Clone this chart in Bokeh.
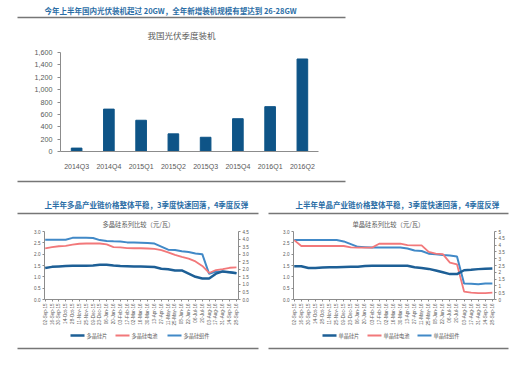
import math
from bokeh.plotting import figure
from bokeh.layouts import row
from bokeh.models import (Range1d, FactorRange, LinearAxis, FixedTicker,
                          NumeralTickFormatter, ColumnDataSource)
from bokeh.core.properties import value
from bokeh.embed import file_html
from bokeh.resources import INLINE

# ---------------- data ----------------
header = "今年上半年国内光伏装机超过 20GW，全年新增装机规模有望达到 26-28GW"
bar_title = "我国光伏季度装机"
quarters = ["2014Q3", "2014Q4", "2015Q1", "2015Q2", "2015Q3", "2015Q4", "2016Q1", "2016Q2"]
installs = [55, 685, 505, 285, 230, 530, 725, 1495]
bar_ticks = [0, 200, 400, 600, 800, 1000, 1200, 1400, 1600]

poly_heading = "上半年多晶产业链价格整体平稳，3季度快速回落，4季度反弹"
mono_heading = "上半年单晶产业链价格整体平稳，3季度快速回落，4季度反弹"
poly_title = "多晶硅系列比较（元/瓦）"
mono_title = "单晶硅系列比较（元/瓦）"
poly_names = ["多晶硅片", "多晶硅电池", "多晶硅组件"]
mono_names = ["单晶硅片", "单晶硅电池", "单晶硅组件"]

dates = ["02-Sep-15", "16-Sep-15", "30-Sep-15", "14-Oct-15", "28-Oct-15", "11-Nov-15",
         "25-Nov-15", "09-Dec-15", "23-Dec-15", "06-Jan-16", "20-Jan-16", "03-Feb-16",
         "17-Feb-16", "02-Mar-16", "16-Mar-16", "30-Mar-16", "13-Apr-16", "27-Apr-16",
         "11-May-16", "25-May-16", "08-Jun-16", "22-Jun-16", "06-Jul-16", "20-Jul-16",
         "03-Aug-16", "17-Aug-16", "31-Aug-16", "14-Sep-16", "28-Sep-16"]

poly_wafer = [1.39, 1.44, 1.46, 1.48, 1.49, 1.49, 1.49, 1.50, 1.53, 1.53, 1.50, 1.48, 1.47, 1.46,
              1.46, 1.45, 1.43, 1.36, 1.33, 1.28, 1.28, 1.14, 1.00, 0.93, 0.93, 1.14, 1.24, 1.20, 1.16]
poly_cell = [2.26, 2.31, 2.35, 2.37, 2.42, 2.46, 2.47, 2.47, 2.47, 2.43, 2.31, 2.30, 2.27, 2.26,
             2.26, 2.25, 2.23, 2.18, 2.08, 1.97, 1.88, 1.80, 1.68, 1.48, 1.17, 1.30, 1.34, 1.40, 1.42]
poly_module = [3.95, 3.95, 3.95, 3.95, 4.08, 4.08, 4.08, 4.07, 3.93, 3.87, 3.85, 3.84, 3.78, 3.77,
               3.76, 3.74, 3.70, 3.50, 3.30, 3.28, 3.20, 3.14, 3.05, 3.00, 1.70, 1.85, 1.83, 1.80, 1.76]

mono_wafer = [1.47, 1.47, 1.39, 1.39, 1.41, 1.42, 1.42, 1.43, 1.44, 1.45, 1.48, 1.49, 1.49, 1.49,
              1.49, 1.49, 1.49, 1.42, 1.39, 1.35, 1.28, 1.20, 1.12, 1.12, 1.29, 1.31, 1.34, 1.36, 1.37]
mono_cell = [2.62, 2.36, 2.36, 2.36, 2.36, 2.36, 2.36, 2.36, 2.30, 2.29, 2.29, 2.29, 2.46, 2.46,
             2.46, 2.46, 2.40, 2.39, 2.39, 2.10, 2.02, 2.00, 1.63, 1.55, 0.35, 0.30, 0.28, 0.28, 0.30]
mono_module = [4.38, 4.38, 4.38, 4.38, 4.38, 4.38, 4.38, 4.27, 4.07, 3.87, 3.85, 3.83, 3.83, 3.83,
               3.83, 3.83, 3.75, 3.60, 3.57, 3.37, 3.32, 3.27, 3.23, 3.17, 1.17, 1.15, 1.13, 1.17, 1.18]

left_ticks = [0, 0.5, 1.0, 1.5, 2.0, 2.5, 3.0]
poly_right_ticks = [0, 0.5, 1.0, 1.5, 2.0, 2.5, 3.0, 3.5, 4.0, 4.5]
mono_right_ticks = [0, 0.5, 1, 1.5, 2, 2.5, 3, 3.5, 4, 4.5, 5]

# ---------------- styles ----------------
CJK = "Noto Sans CJK SC"
LAT = "Liberation Sans"
GRAY = "#595959"
AX = "#8c8c8c"
BLUE_T = "#2c6ea6"
RULE = "#767676"
BAR = "#0e5487"
SERIES_COLORS = ["#1d5f96", "#f2787a", "#4189c7"]   # wafer, cell, module
SERIES_WIDTHS = [2.5, 1.8, 2.0]
W = 520


def deco(h):
    f = figure(width=W, height=h, x_range=Range1d(0, W), y_range=Range1d(h, 0),
               x_axis_location=None, y_axis_location=None, toolbar_location=None,
               output_backend="svg", min_border=0, outline_line_color=None)
    f.grid.visible = False
    return f


def rules(f, x0, x1, y):
    f.segment(x0=x0, y0=y, x1=x1, y1=y, line_color=RULE, line_width=1.5)


def texts(f, x, y, t, size, color, bold=False):
    f.text(x=x, y=y, text=t, text_font=value(CJK), text_font_size=size, text_color=color,
           text_font_style="bold" if bold else "normal", text_baseline="middle", text_align="left")


# ---------------- header (0..44) ----------------
top = deco(44)
texts(top, [44], [9.5], [header], "7.5px", BLUE_T, bold=True)
rules(top, [17], [345], [17])
texts(top, [147], [34], [bar_title], "8.5px", GRAY)

# ---------------- bar chart (44..172) ----------------
bp = figure(width=W, height=128, x_range=FactorRange(*quarters, range_padding=0, factor_padding=0),
            y_range=Range1d(0, 1600), toolbar_location=None, output_backend="svg",
            min_border_left=60, min_border_right=202, min_border_top=8, min_border_bottom=17,
            outline_line_color=None)
bp.vbar(x=quarters, top=installs, width=0.33, color=BAR)
bp.grid.visible = False
bp.yaxis.ticker = FixedTicker(ticks=bar_ticks)
bp.yaxis.formatter = NumeralTickFormatter(format="0,0")
for ax in (bp.xaxis[0], bp.yaxis[0]):
    ax.axis_line_color = AX
    ax.minor_tick_line_color = None
    ax.major_label_text_font = LAT
    ax.major_label_text_color = GRAY
bp.yaxis.major_label_text_font_size = "7.2px"
bp.yaxis.major_tick_out = 3
bp.yaxis.major_tick_in = 0
bp.yaxis.major_tick_line_color = AX
bp.yaxis.major_label_standoff = 5
bp.xaxis.major_tick_line_color = None
bp.xaxis.major_label_text_font_size = "7px"
bp.xaxis.major_label_standoff = 5

# ---------------- headings (172..228) ----------------
mid = deco(56)
rules(mid, [17, 17, 268], [345, 258, 508], [9, 41, 41])
texts(mid, [44, 295], [32, 32], [poly_heading, mono_heading], "7.5px", BLUE_T, bold=True)
texts(mid, [102, 352], [51.5, 51.5], [poly_title, mono_title], "6.3px", GRAY)


# ---------------- line charts (228..328) ----------------
def line_chart(w, lb, rb, series, rmax, rticks, rfmt):
    wafer, cell, module = series
    idx = list(range(len(dates)))
    src = ColumnDataSource(dict(i=idx, wafer=wafer, cell=cell, module=module))
    f = figure(width=w, height=100, x_range=Range1d(-0.1, len(dates) - 1 + 0.3), y_range=Range1d(0, 3),
               toolbar_location=None, output_backend="svg", min_border_left=lb, min_border_right=rb,
               min_border_top=3, min_border_bottom=25, outline_line_color=None)
    f.extra_y_ranges = {"r": Range1d(0, rmax)}
    f.grid.visible = False
    f.line("i", "module", source=src, y_range_name="r",
           line_color=SERIES_COLORS[2], line_width=SERIES_WIDTHS[2])
    f.line("i", "cell", source=src, line_color=SERIES_COLORS[1], line_width=SERIES_WIDTHS[1])
    f.line("i", "wafer", source=src, line_color=SERIES_COLORS[0], line_width=SERIES_WIDTHS[0])
    rax = LinearAxis(y_range_name="r", ticker=FixedTicker(ticks=rticks),
                     formatter=NumeralTickFormatter(format=rfmt))
    f.add_layout(rax, "right")
    f.yaxis[0].ticker = FixedTicker(ticks=left_ticks)
    f.yaxis[0].formatter = NumeralTickFormatter(format="0.0")
    f.xaxis.ticker = FixedTicker(ticks=idx)
    f.xaxis.major_label_overrides = {i: d for i, d in zip(idx, dates)}
    f.xaxis.major_label_orientation = math.pi / 2
    for ax in f.xaxis + f.yaxis:
        ax.axis_line_color = AX
        ax.major_tick_line_color = AX
        ax.major_tick_out = 2
        ax.major_tick_in = 0
        ax.minor_tick_line_color = None
        ax.major_label_text_font = LAT
        ax.major_label_text_font_size = "4.6px"
        ax.major_label_text_color = GRAY
        ax.major_label_standoff = 2
    return f


lp = line_chart(263, 44, 25, (poly_wafer, poly_cell, poly_module), 4.5, poly_right_ticks, "0.0")
rp = line_chart(257, 30, 26, (mono_wafer, mono_cell, mono_module), 5, mono_right_ticks, "0.[0]")

# ---------------- legends + bottom rules (328..366) ----------------
bot = deco(38)
LEG_Y = 7
for names, starts in ((poly_names, [70, 115, 167]), (mono_names, [322, 367, 417])):
    for k in range(3):
        bot.segment(x0=[starts[k]], y0=[LEG_Y], x1=[starts[k] + 14], y1=[LEG_Y],
                    line_color=SERIES_COLORS[k], line_width=SERIES_WIDTHS[k])
    texts(bot, [s + 16 for s in starts], [LEG_Y] * 3, names, "5.2px", GRAY)
rules(bot, [17, 268], [258, 508], [20, 20])

open("out.html", "w").write(file_html([top, bp, mid, row(lp, rp, spacing=0), bot], INLINE))
